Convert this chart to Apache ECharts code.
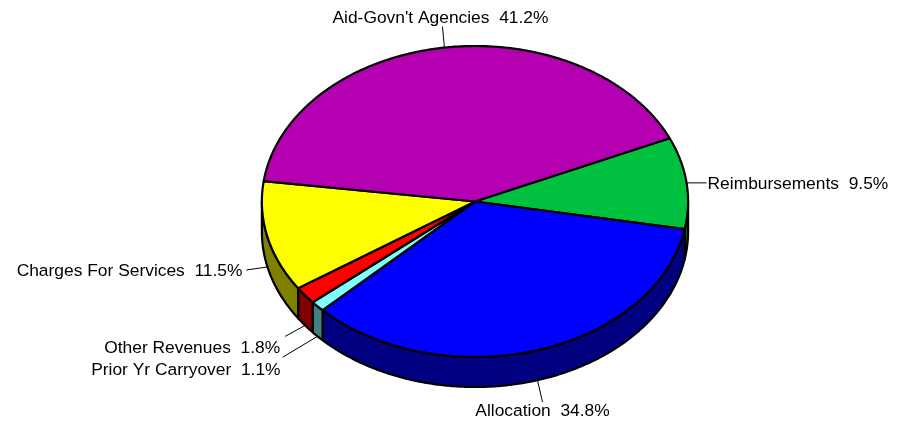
<!DOCTYPE html>
<html>
<head>
<meta charset="utf-8">
<script src="https://cdn.jsdelivr.net/npm/echarts@6/dist/echarts.min.js"></script>
<style>
  html, body { margin: 0; padding: 0; background: #ffffff; }
  #chart { width: 903px; height: 426px; }
</style>
</head>
<body>
<div id="chart"></div>
<script>
// Revenue sources, in clockwise order starting from the upper-right edge
const categories = ['Reimbursements', 'Allocation', 'Prior Yr Carryover', 'Other Revenues', 'Charges For Services', "Aid-Govn't Agencies"];
const shares = [9.5, 34.8, 1.1, 1.8, 11.5, 41.2];

// Top-face and rim colours per slice
const topColors = ['#00C040', '#0000FF', '#80FFFF', '#FF0000', '#FFFF00', '#B400B0'];
const sideColors = ['#006020', '#000080', '#408080', '#800000', '#808000', '#5A0058'];

// Label layout: leader end offset from the slice anchor, then text offset from the leader end
const leaderOffsets = [[20, 0], [5, 22], [-35, 21], [-20, 11], [-21, 3], [-2, -21]];
const textOffsets = [[1, 1], [0, 1], [-2, 13], [-5, 12], [-4, 1], [-2, 0]];

const chart = echarts.init(document.getElementById('chart'), null, { renderer: 'canvas' });

const total = shares.reduce((a, b) => a + b, 0);
const startDeg = -24;           // first slice edge, degrees (screen, clockwise)
const FONT = '17.4px "Liberation Sans", Arial, sans-serif';

function geometry(api) {
  const W = api.getWidth(), H = api.getHeight();
  return { cx: W * 0.526, cy: H * 0.473, rx: W * 0.236, ry: H * 0.365, depth: 30 };
}

function rimPoint(g, deg, drop) {
  const r = deg * Math.PI / 180;
  return [g.cx + g.rx * Math.cos(r), g.cy + g.ry * Math.sin(r) + (drop || 0)];
}

function arc(g, a0, a1, drop) {
  const pts = [];
  const n = Math.max(2, Math.ceil(Math.abs(a1 - a0) / 0.5));
  for (let i = 0; i <= n; i++) pts.push(rimPoint(g, a0 + (a1 - a0) * i / n, drop));
  return pts;
}

function renderSlice(params, api) {
  const i = params.dataIndex;
  const g = geometry(api);
  let before = 0;
  for (let k = 0; k < i; k++) before += shares[k];
  const value = api.value(0);
  const a0 = startDeg + before / total * 360;
  const a1 = a0 + value / total * 360;
  const mid = (a0 + a1) / 2;
  const children = [];
  const outline = { stroke: '#000', lineWidth: 2.2, lineJoin: 'round' };

  // Visible rim (front half of the disc)
  const s = Math.max(a0, 0), e = Math.min(a1, 180);
  if (e > s) {
    const pts = arc(g, s, e, 0).concat(arc(g, e, s, g.depth));
    children.push({ type: 'polygon', shape: { points: pts }, style: Object.assign({ fill: sideColors[i] }, outline) });
  }

  // Top face
  const top = [[g.cx, g.cy]].concat(arc(g, a0, a1, 0));
  children.push({ type: 'polygon', shape: { points: top }, style: Object.assign({ fill: topColors[i] }, outline) });

  // Leader line and label
  const midRad = mid * Math.PI / 180;
  const lower = Math.sin(midRad) > 0;
  const anchor = rimPoint(g, mid, lower ? g.depth : 0);
  const end = [anchor[0] + leaderOffsets[i][0], anchor[1] + leaderOffsets[i][1]];
  children.push({ type: 'line', shape: { x1: anchor[0], y1: anchor[1], x2: end[0], y2: end[1] },
                  style: { stroke: '#000', lineWidth: 1 } });

  const c = Math.cos(midRad);
  let align = 'center', vAlign = 'middle';
  if (c > 0.5) align = 'left';
  else if (c < -0.5) align = 'right';
  else vAlign = lower ? 'top' : 'bottom';
  const text = categories[i] + '  ' + value.toFixed(1) + '%';
  children.push({
    type: 'text',
    style: {
      text: text,
      x: end[0] + textOffsets[i][0],
      y: end[1] + textOffsets[i][1],
      fill: '#000',
      font: FONT,
      align: align, verticalAlign: vAlign,
      textAlign: align, textVerticalAlign: vAlign
    }
  });

  return { type: 'group', children: children };
}

chart.setOption({
  backgroundColor: '#ffffff',
  animation: false,
  series: [{
    type: 'custom',
    coordinateSystem: 'none',
    renderItem: renderSlice,
    data: shares.map((v, i) => ({ name: categories[i], value: [v] }))
  }]
});
</script>
</body>
</html>
